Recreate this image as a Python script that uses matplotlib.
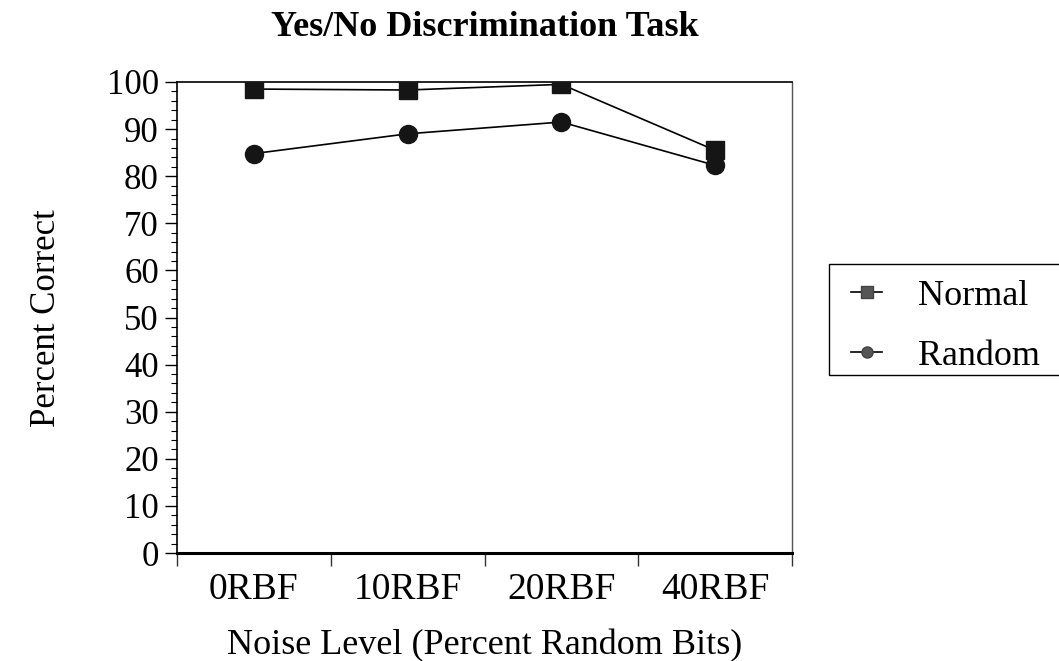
import matplotlib
matplotlib.use("Agg")
import matplotlib.pyplot as plt
from matplotlib.lines import Line2D
from matplotlib.patches import Rectangle
from matplotlib.ticker import MultipleLocator, FixedLocator, NullFormatter, FixedFormatter

categories = ["0RBF", "10RBF", "20RBF", "40RBF"]
normal = [98.5, 98.3, 99.5, 85.5]
random_ = [84.8, 89.0, 91.5, 82.3]
series_names = ["Normal", "Random"]
title = "Yes/No Discrimination Task"
xlabel = "Noise Level (Percent Random Bits)"
ylabel = "Percent Correct"

plt.rcParams['font.family'] = ['Liberation Serif', 'DejaVu Serif']

W, H = 1059, 661
fig = plt.figure(figsize=(W / 100, H / 100), dpi=100)
ax = fig.add_axes([177 / W, 1 - 553 / H, (792 - 177) / W, (553 - 82) / H])

x = list(range(len(categories)))
ax.plot(x, normal, color='black', lw=1.2, marker='s', ms=13, mfc='#151515', mec='#151515', zorder=3)
ax.plot(x, random_, color='black', lw=1.2, marker='o', ms=13, mfc='#151515', mec='#151515', zorder=3)

ax.set_xlim(-0.5, len(categories) - 0.5)
ax.set_ylim(0, 100)

# x: major ticks at bin boundaries, labels centred at categories
ax.xaxis.set_major_locator(FixedLocator([i - 0.5 for i in range(len(categories) + 1)]))
ax.xaxis.set_major_formatter(NullFormatter())
ax.xaxis.set_minor_locator(FixedLocator(x))
ax.xaxis.set_minor_formatter(FixedFormatter(categories))
ax.tick_params(axis='x', which='major', direction='out', length=9, width=1, color='#333333')
ax.tick_params(axis='x', which='minor', length=0, pad=14, labelsize=27)

ax.yaxis.set_major_locator(MultipleLocator(10))
ax.yaxis.set_minor_locator(MultipleLocator(2))
ax.tick_params(axis='y', which='major', direction='out', length=9, width=1, pad=4, labelsize=25)
ax.tick_params(axis='y', which='minor', direction='out', length=4, width=0.8)

for s in ['left', 'top']:
    ax.spines[s].set_linewidth(1.2)
ax.spines['bottom'].set_linewidth(2.2)
ax.spines['right'].set_linewidth(1.0)
ax.spines['right'].set_color('#555555')

fig.text((177 + 792) / 2 / W, 1 - 28 / H, title, ha='center', va='center',
         fontsize=26, fontweight='bold')
fig.text((177 + 792) / 2 / W, 1 - 646 / H, xlabel, ha='center', va='center', fontsize=26)
fig.text(47 / W, 1 - 318 / H, ylabel, ha='center', va='center', rotation=90, fontsize=25)

handles = [
    Line2D([], [], color='black', lw=1.2, marker='s', ms=8, mfc='#555555', mec='#444444'),
    Line2D([], [], color='black', lw=1.2, marker='o', ms=8, mfc='#555555', mec='#444444'),
]
leg = fig.legend(handles, series_names, loc='upper left', bbox_to_anchor=(826 / W, 1 - 254 / H),
                 frameon=False, fontsize=26, handlelength=0.85, handletextpad=1.0,
                 labelspacing=0.75, borderpad=0.2)
fig.patches.append(Rectangle((829 / W, 1 - 375 / H), 0.3, (375 - 264) / H,
                             transform=fig.transFigure, fill=False, edgecolor='black', lw=1.0))

fig.savefig('out.png', dpi=100)
